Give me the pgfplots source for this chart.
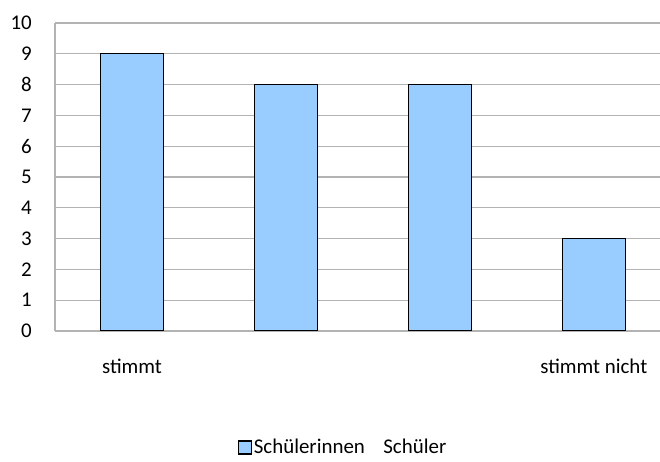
\documentclass[border=0pt]{standalone}
\usepackage{fontspec}
\setmainfont{Carlito}
\usepackage{pgfplots}
\pgfplotsset{compat=1.18}
\definecolor{barblue}{HTML}{99CCFF}
\definecolor{gridgray}{HTML}{B3B3B3}
\begin{document}
\begin{tikzpicture}
\useasboundingbox (0,0) rectangle (660bp,462bp);
\begin{axis}[
  at={(55bp,131bp)}, anchor=south west,
  scale only axis, width=605bp, height=308bp,
  xmin=-0.5, xmax=3.43, ymin=0, ymax=10,
  axis x line*=bottom, axis y line*=left,
  axis line style={-, draw=gridgray, line width=1.2bp},
  ymajorgrids, grid style={draw=gridgray, line width=1.2bp},
  major tick length=0pt,
  ytick={0,1,2,3,4,5,6,7,8,9,10},
  xtick={0,1,2,3},
  xticklabels={stimmt,,,stimmt nicht},
  /pgf/number format/assume math mode=true,
  ticklabel style={font=\fontsize{21}{25}\selectfont, text=black},
  yticklabel style={anchor=east, inner sep=0pt, xshift=-23bp},
  xticklabel style={anchor=base, inner sep=0pt, yshift=-42bp},
  legend style={at={(0.476,-0.378)}, anchor=center, draw=none,
    font=\fontsize{21}{25}\selectfont, legend columns=2,
    nodes={inner sep=2bp},
    /tikz/every even column/.append style={column sep=1bp}},
  legend image code/.code={\draw[#1] (0bp,-6.5bp) rectangle (13bp,6.5bp);},
]
\addplot[ybar, bar width=0.41, fill=barblue, draw=black, line width=1.2bp]
  coordinates {(0,9) (1,8) (2,8) (3,3)};
\addlegendentry{Schülerinnen}
\addlegendimage{draw=white, fill=white}
\addlegendentry{Schüler}
\end{axis}
\end{tikzpicture}
\end{document}
